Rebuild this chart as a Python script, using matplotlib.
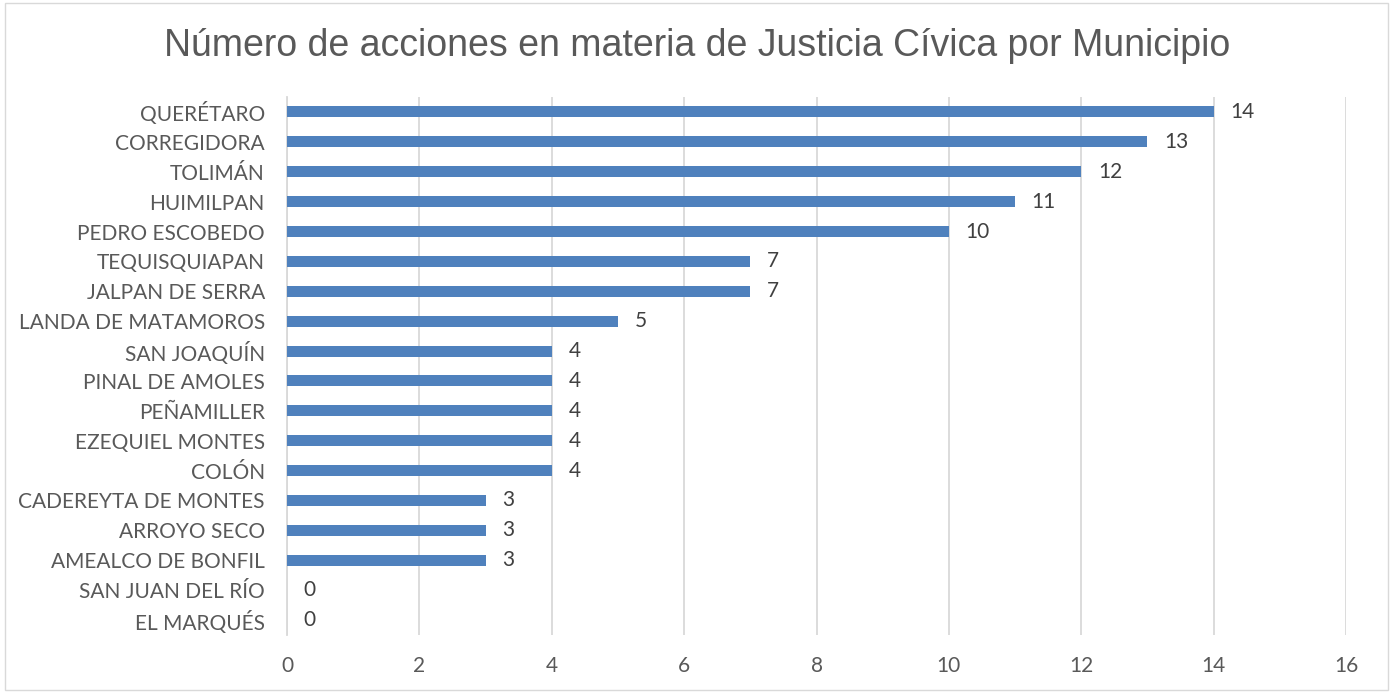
import matplotlib
matplotlib.use("Agg")
import matplotlib.pyplot as plt
from matplotlib.patches import Rectangle

municipios = ["QUERÉTARO", "CORREGIDORA", "TOLIMÁN", "HUIMILPAN", "PEDRO ESCOBEDO",
              "TEQUISQUIAPAN", "JALPAN DE SERRA", "LANDA DE MATAMOROS", "SAN JOAQUÍN",
              "PINAL DE AMOLES", "PEÑAMILLER", "EZEQUIEL MONTES", "COLÓN",
              "CADEREYTA DE MONTES", "ARROYO SECO", "AMEALCO DE BONFIL",
              "SAN JUAN DEL RÍO", "EL MARQUÉS"]
acciones = [14, 13, 12, 11, 10, 7, 7, 5, 4, 4, 4, 4, 4, 3, 3, 3, 0, 0]
xticks = [0, 2, 4, 6, 8, 10, 12, 14, 16]
titulo = "Número de acciones en materia de Justicia Cívica por Municipio"

W, H = 1394, 693
fig = plt.figure(figsize=(W/100, H/100), dpi=100)
fig.patch.set_facecolor("white")
fig.add_artist(Rectangle((5/W, 3/H), (1388-5)/W, (690-3)/H, transform=fig.transFigure,
                         fill=False, edgecolor="#D9D9D9", linewidth=1))

ax = fig.add_axes([287/W, 1-635/H, (1346-287)/W, (635-97)/H])
txt = "#595959"
lab_font = "Lato"
n = len(municipios)
ys = list(range(n))
ax.barh(ys, acciones, height=0.37, color="#4F81BD", zorder=3)
ax.set_ylim(n-0.5, -0.5)
ax.set_xlim(0, 16)
ax.set_xticks(xticks)
ax.set_xticklabels([str(t) for t in xticks], fontsize=15, color=txt, family=lab_font)
ax.set_yticks(ys)
ax.set_yticklabels(municipios, fontsize=15, color=txt, family=lab_font)
ax.tick_params(axis="both", length=0)
ax.tick_params(axis="x", pad=15)
ax.tick_params(axis="y", pad=16)
ax.grid(axis="x", color="#D9D9D9", linewidth=1.3, zorder=0)
for s in ["top", "right", "bottom"]:
    ax.spines[s].set_visible(False)
ax.spines["left"].set_color("#D9D9D9")
ax.spines["left"].set_linewidth(1.3)

for y, v in zip(ys, acciones):
    ax.annotate(str(v), (v, y), xytext=(12, 0), textcoords="offset points",
                va="center", ha="left", fontsize=15, color="#404040", family=lab_font)

fig.text(0.5, 1-46/H, titulo, ha="center", va="center", fontsize=27, color=txt,
         family="Liberation Sans")
fig.savefig("out.png", dpi=100)
